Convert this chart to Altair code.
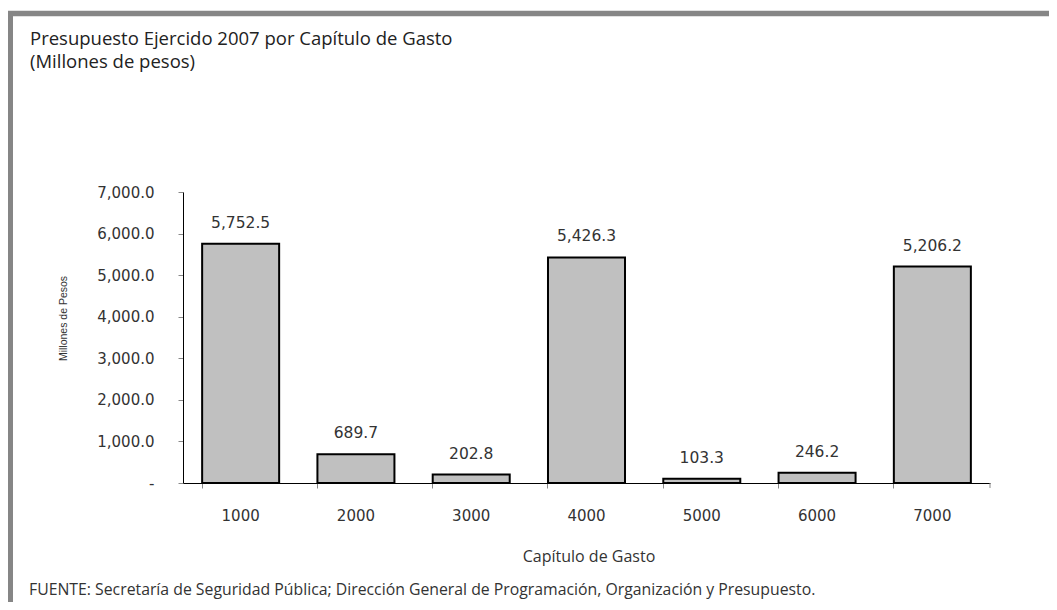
import altair as alt
import pandas as pd

# Data
capitulos = ["1000", "2000", "3000", "4000", "5000", "6000", "7000"]
montos = [5752.5, 689.7, 202.8, 5426.3, 103.3, 246.2, 5206.2]
y_ticks = [0, 1000, 2000, 3000, 4000, 5000, 6000, 7000]

titulo_1 = "Presupuesto Ejercido 2007 por Capítulo de Gasto"
titulo_2 = "(Millones de pesos)"
eje_y = "Millones de Pesos"
eje_x = "Capítulo de Gasto"
fuente = "FUENTE: Secretaría de Seguridad Pública; Dirección General de Programación, Organización y Presupuesto."

df = pd.DataFrame({"capitulo": capitulos, "monto": montos})

W, H = 807, 291
PAD_L, PAD_T = 175, 184
TOTAL_W, TOTAL_H = 1041, 594

NUM_FONT = "DejaVu Sans"
TXT_FONT = "Open Sans"
TXT_COLOR = "#333333"

x_enc = alt.X(
    "capitulo:N",
    sort=capitulos,
    scale=alt.Scale(paddingInner=0.332, paddingOuter=0.166),
    axis=alt.Axis(
        title=eje_x,
        titleFont=TXT_FONT,
        titleFontSize=16,
        titleFontWeight="normal",
        titleColor=TXT_COLOR,
        titleX=W / 2 + 2,
        titleY=78,
        titleBaseline="alphabetic",
        labelFont=NUM_FONT,
        labelFontSize=15,
        labelColor=TXT_COLOR,
        labelAngle=0,
        labelPadding=20,
        bandPosition=0,
        tickSize=5,
        tickColor="#888888",
        domainColor="#000000",
    ),
)

y_enc = alt.Y(
    "monto:Q",
    scale=alt.Scale(domain=[0, 7000], nice=False),
    axis=alt.Axis(
        values=y_ticks,
        title=eje_y,
        titleFont="Liberation Sans",
        titleFontSize=10.5,
        titleFontWeight="normal",
        titleColor=TXT_COLOR,
        titleX=-120,
        titleY=126,
        titleAlign="center",
        titleBaseline="middle",
        titleAngle=270,
        labelFont=NUM_FONT,
        labelFontSize=15,
        labelColor=TXT_COLOR,
        labelPadding=24,
        labelExpr="datum.value == 0 ? '-\u00a0\u00a0' : format(datum.value, ',.1f')",
        tickSize=5,
        tickColor="#888888",
        domainColor="#000000",
        grid=False,
    ),
)

bars = alt.Chart(df).mark_bar(
    color="#C0C0C0", stroke="#000000", strokeWidth=2
).encode(x=x_enc, y=y_enc)

labels = alt.Chart(df).mark_text(
    font=NUM_FONT, fontSize=15.5, color=TXT_COLOR, baseline="alphabetic", dy=-16
).encode(
    x=alt.X("capitulo:N", sort=capitulos),
    y="monto:Q",
    text=alt.Text("monto:Q", format=",.1f"),
)

one = pd.DataFrame({"k": [0]})

last_tick = alt.Chart(one).mark_rule(color="#888888", strokeWidth=1).encode(
    x=alt.value(W), y=alt.value(H), y2=alt.value(H + 5)
)

border_top = alt.Chart(one).mark_rule(color="#868686", strokeWidth=5.5).encode(
    x=alt.value(-PAD_L), x2=alt.value(TOTAL_W - PAD_L), y=alt.value(-178.5)
)
border_left = alt.Chart(one).mark_rule(color="#868686", strokeWidth=5).encode(
    x=alt.value(-172.5), y=alt.value(-181), y2=alt.value(TOTAL_H - PAD_T)
)

title_block = alt.Chart(one).mark_text(
    font=TXT_FONT, fontSize=18.5, color="#222222", align="left",
    baseline="alphabetic", lineHeight=23,
).encode(x=alt.value(-153), y=alt.value(-147), text=alt.value([titulo_1, titulo_2]))

foot = alt.Chart(one).mark_text(
    font=TXT_FONT, fontSize=15.8, color=TXT_COLOR, align="left", baseline="alphabetic"
).encode(x=alt.value(-154), y=alt.value(403), text=alt.value(fuente))

chart = alt.layer(
    bars, labels, last_tick, border_top, border_left, title_block, foot
).properties(
    width=W,
    height=H,
    background="white",
    autosize=alt.AutoSizeParams(type="none"),
    padding={"left": PAD_L, "top": PAD_T, "right": TOTAL_W - PAD_L - W, "bottom": TOTAL_H - PAD_T - H},
).configure_view(strokeWidth=0, stroke="transparent")

chart.save("out.html", embed_options={"renderer": "svg", "actions": False})
